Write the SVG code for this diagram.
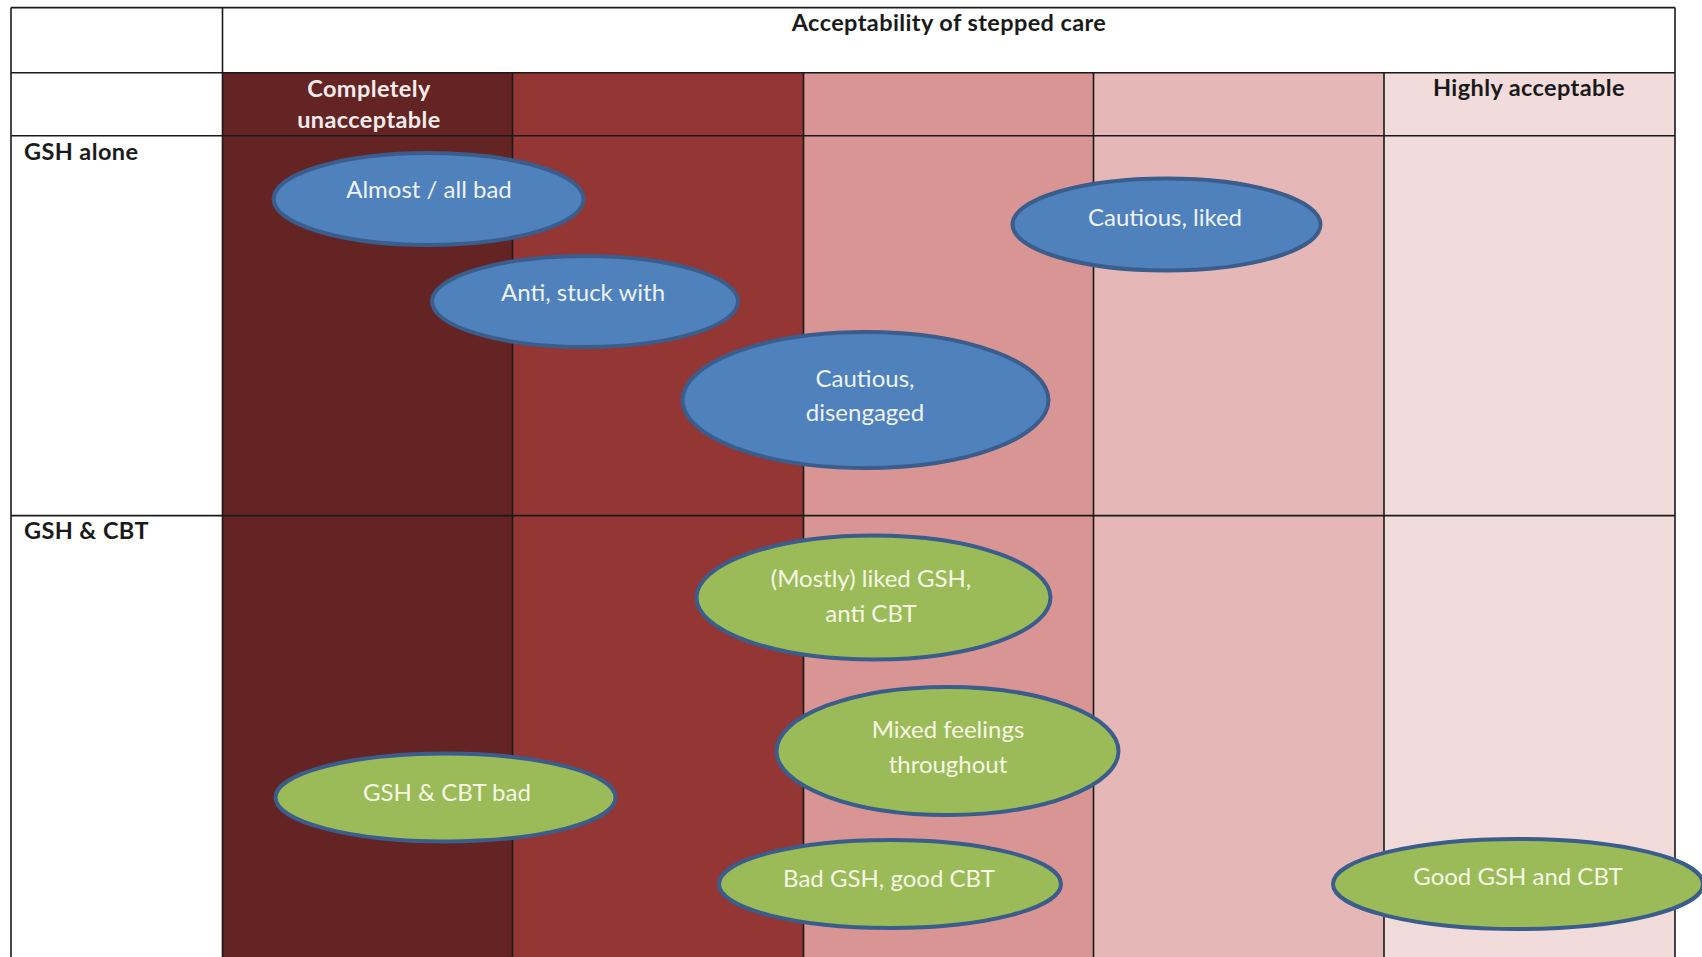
<svg xmlns="http://www.w3.org/2000/svg" width="1702" height="957" viewBox="0 0 1702 957">
  <style>
    .grid { stroke: #1a1a1a; stroke-width: 1.6; fill: none; }
    .hdr { font-family: Lato, "Liberation Sans", sans-serif; font-weight: bold; font-size: 23.5px; letter-spacing: 0.4px; }
    .dark { fill: #1a1a1a; }
    .light { fill: #f4ecec; }
    .blob { stroke: #3a5d8c; stroke-width: 4; }
    .blue { fill: #4f81bd; }
    .green { fill: #9bbb59; }
    .lbl { font-family: Lato, "Liberation Sans", sans-serif; font-size: 24px; text-anchor: middle; }
    .lbl-b { fill: #eef3fa; }
    .lbl-g { fill: #f6f8e4; }
  </style>

  <rect x="0" y="0" width="1702" height="957" fill="#ffffff"/>

  <!-- acceptability scale bands -->
  <g id="bands">
    <rect x="222.5" y="72.7" width="290" height="885" fill="#632423"/>
    <rect x="512.5" y="72.7" width="291" height="885" fill="#943634"/>
    <rect x="803.5" y="72.7" width="290" height="885" fill="#d99594"/>
    <rect x="1093.5" y="72.7" width="290.5" height="885" fill="#e5b8b7"/>
    <rect x="1384" y="72.7" width="291" height="885" fill="#f2dbdb"/>
  </g>

  <!-- table rules -->
  <g id="grid" class="grid">
    <path d="M11 7.6 H1675 M11 72.7 H1675 M11 135.7 H1675 M11 515.6 H1675"/>
    <path d="M11 7.6 V957 M222.5 7.6 V957 M1675 7.6 V957"/>
    <path d="M512.5 72.7 V957 M803.5 72.7 V957 M1093.5 72.7 V957 M1384 72.7 V957"/>
  </g>

  <!-- headings -->
  <g id="headings" class="hdr">
    <text class="dark" x="949" y="31" text-anchor="middle">Acceptability of stepped care</text>
    <text class="light" x="369" y="97" text-anchor="middle">Completely</text>
    <text class="light" x="369" y="128" text-anchor="middle">unacceptable</text>
    <text class="dark" x="1529" y="96" text-anchor="middle">Highly acceptable</text>
    <text class="dark" x="24" y="160">GSH alone</text>
    <text class="dark" x="24" y="539">GSH &amp; CBT</text>
  </g>

  <!-- GSH alone -->
  <g id="node-almost-all-bad">
    <ellipse class="blob blue" cx="428.6" cy="199" rx="155" ry="46"/>
    <text class="lbl lbl-b" x="429" y="198">Almost / all bad</text>
  </g>
  <g id="node-anti-stuck-with">
    <ellipse class="blob blue" cx="585" cy="301.5" rx="153" ry="45.5"/>
    <text class="lbl lbl-b" x="583" y="301">Anti, stuck with</text>
  </g>
  <g id="node-cautious-disengaged">
    <ellipse class="blob blue" cx="865.5" cy="400" rx="183" ry="68"/>
    <text class="lbl lbl-b" x="865" y="387">Cautious,</text>
    <text class="lbl lbl-b" x="865" y="421">disengaged</text>
  </g>
  <g id="node-cautious-liked">
    <ellipse class="blob blue" cx="1166.5" cy="224.5" rx="154" ry="46"/>
    <text class="lbl lbl-b" x="1165" y="226">Cautious, liked</text>
  </g>

  <!-- GSH & CBT -->
  <g id="node-mostly-liked-gsh">
    <ellipse class="blob green" cx="873.5" cy="597.5" rx="177" ry="62"/>
    <text class="lbl lbl-g" x="871" y="587">(Mostly) liked GSH,</text>
    <text class="lbl lbl-g" x="871" y="622">anti CBT</text>
  </g>
  <g id="node-mixed-feelings">
    <ellipse class="blob green" cx="947.5" cy="751" rx="171" ry="64"/>
    <text class="lbl lbl-g" x="948" y="738">Mixed feelings</text>
    <text class="lbl lbl-g" x="948" y="773">throughout</text>
  </g>
  <g id="node-gsh-cbt-bad">
    <ellipse class="blob green" cx="445.5" cy="797.5" rx="170" ry="44"/>
    <text class="lbl lbl-g" x="447" y="801">GSH &amp; CBT bad</text>
  </g>
  <g id="node-bad-gsh-good-cbt">
    <ellipse class="blob green" cx="890" cy="884" rx="171" ry="44"/>
    <text class="lbl lbl-g" x="889" y="887">Bad GSH, good CBT</text>
  </g>
  <g id="node-good-gsh-and-cbt">
    <ellipse class="blob green" cx="1518" cy="884" rx="185" ry="45"/>
    <text class="lbl lbl-g" x="1518" y="885">Good GSH and CBT</text>
  </g>

  <!-- no connectors in this chart -->
  <g id="connectors"/>
</svg>
